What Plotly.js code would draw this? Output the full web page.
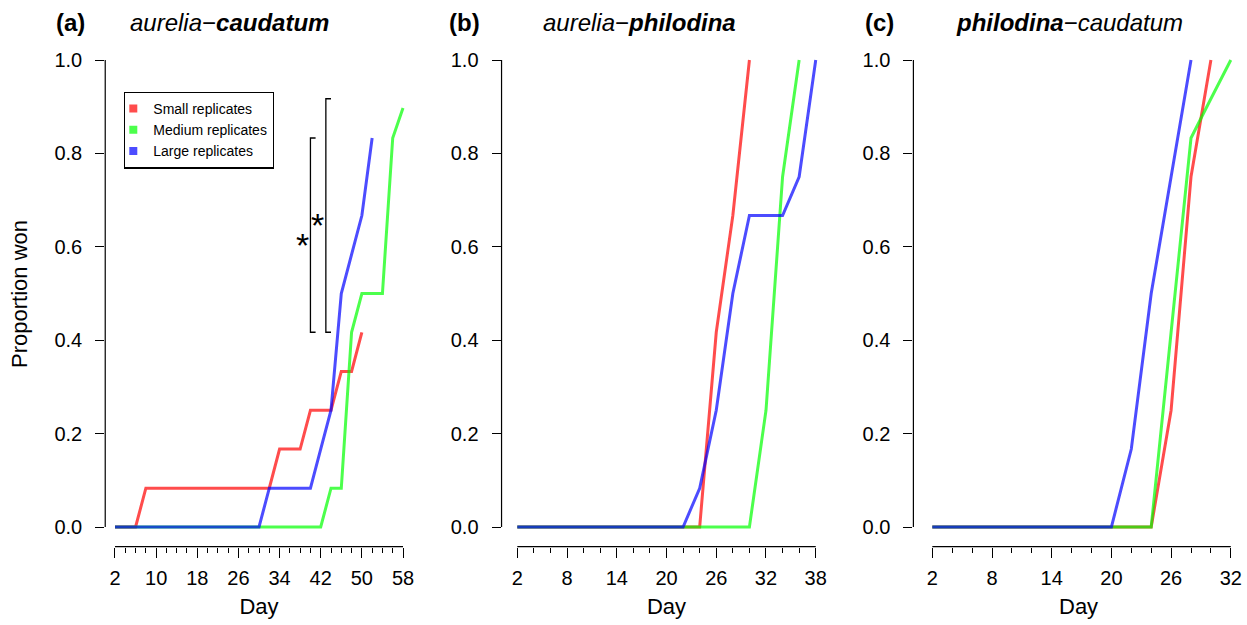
<!DOCTYPE html>
<html>
<head>
<meta charset="utf-8">
<script src="https://cdn.plot.ly/plotly-3.0.1.min.js"></script>
<style>html,body{margin:0;padding:0;background:#fff;}#chart{width:1247px;height:625px;}</style>
</head>
<body>
<div id="chart"></div>
<script>
// ---------- data ----------
const seriesNames = ["Small replicates", "Medium replicates", "Large replicates"];

// Panel (a) aurelia–caudatum
const daysA_small  = [2,4,6,8,10,12,14,16,18,20,22,24,26,28,30,32,34,36,38,40,42,44,46,48,50];
const wonA_small   = [0,0,0,0.083,0.083,0.083,0.083,0.083,0.083,0.083,0.083,0.083,0.083,0.083,0.083,0.083,0.167,0.167,0.167,0.25,0.25,0.25,0.333,0.333,0.417];
const daysA_medium = [2,4,6,8,10,12,14,16,18,20,22,24,26,28,30,32,34,36,38,40,42,44,46,48,50,52,54,56,58];
const wonA_medium  = [0,0,0,0,0,0,0,0,0,0,0,0,0,0,0,0,0,0,0,0,0,0.083,0.083,0.417,0.5,0.5,0.5,0.833,0.897];
const daysA_large  = [2,4,6,8,10,12,14,16,18,20,22,24,26,28,30,32,34,36,38,40,42,44,46,48,50,52];
const wonA_large   = [0,0,0,0,0,0,0,0,0,0,0,0,0,0,0,0.083,0.083,0.083,0.083,0.083,0.167,0.25,0.5,0.583,0.667,0.833];

// Panel (b) aurelia–philodina
const daysB_small  = [2,4,6,8,10,12,14,16,18,20,22,24,26,28,30];
const wonB_small   = [0,0,0,0,0,0,0,0,0,0,0,0,0.417,0.667,1.0];
const daysB_medium = [2,4,6,8,10,12,14,16,18,20,22,24,26,28,30,32,34,36];
const wonB_medium  = [0,0,0,0,0,0,0,0,0,0,0,0,0,0,0,0.25,0.75,1.0];
const daysB_large  = [2,4,6,8,10,12,14,16,18,20,22,24,26,28,30,32,34,36,38];
const wonB_large   = [0,0,0,0,0,0,0,0,0,0,0,0.083,0.25,0.5,0.667,0.667,0.667,0.75,1.0];

// Panel (c) philodina–caudatum
const daysC_small  = [2,4,6,8,10,12,14,16,18,20,22,24,26,28,30];
const wonC_small   = [0,0,0,0,0,0,0,0,0,0,0,0,0.25,0.75,1.0];
const daysC_medium = [2,4,6,8,10,12,14,16,18,20,22,24,26,28,30,32];
const wonC_medium  = [0,0,0,0,0,0,0,0,0,0,0,0,0.417,0.833,0.917,1.0];
const daysC_large  = [2,4,6,8,10,12,14,16,18,20,22,24,26,28];
const wonC_large   = [0,0,0,0,0,0,0,0,0,0,0.167,0.5,0.75,1.0];

// tick labels
const xTicksA = [2,10,18,26,34,42,50,58];
const xTicksB = [2,8,14,20,26,32,38];
const xTicksC = [2,8,14,20,26,32];
const yTicks  = [0,0.2,0.4,0.6,0.8,1.0];
const yTickText = ["0.0","0.2","0.4","0.6","0.8","1.0"];

// significance comparisons in panel (a): [low end, high end]
const sigLow  = [0.417, 0.417];
const sigHigh = [0.833, 0.917];

// ---------- styling ----------
const W = 1247, H = 625;
const FONT = "Liberation Sans, Arial, Helvetica, sans-serif";
const colors = ["rgba(255,0,0,0.7)", "rgba(0,255,0,0.7)", "rgba(0,0,255,0.7)"];
const px = v => v / W;
const py = v => 1 - v / H;

// y: 0 -> 527px, 1 -> 60px
const yRange = [-0.042, 1.04];
const yDom = [py(527 + 0.042 * 467), py(60 - 0.04 * 467)];

function xDomain(day2px, pxPerDay, r0, r1) {
  return [px(day2px + (r0 - 2) * pxPerDay), px(day2px + (r1 - 2) * pxPerDay)];
}
const rA = [0.1, 59.9], rB = [0.1, 39.9], rC = [0.1, 33.3];
const domA = xDomain(115.0, 5.143, rA[0], rA[1]);
const domB = xDomain(517.3, 8.29, rB[0], rB[1]);
const domC = xDomain(932.3, 9.95, rC[0], rC[1]);

function line(x, y, i, xa, ya) {
  return {x: x, y: y, type: "scatter", mode: "lines", xaxis: xa, yaxis: ya,
          line: {color: colors[i], width: 3}, showlegend: false, hoverinfo: "x+y", name: seriesNames[i]};
}

const traces = [
  line(daysA_small, wonA_small, 0, "x", "y"),
  line(daysA_medium, wonA_medium, 1, "x", "y"),
  line(daysA_large, wonA_large, 2, "x", "y"),
  line(daysB_small, wonB_small, 0, "x2", "y2"),
  line(daysB_medium, wonB_medium, 1, "x2", "y2"),
  line(daysB_large, wonB_large, 2, "x2", "y2"),
  line(daysC_small, wonC_small, 0, "x3", "y3"),
  line(daysC_medium, wonC_medium, 1, "x3", "y3"),
  line(daysC_large, wonC_large, 2, "x3", "y3")
];
// legend entries (filled squares)
seriesNames.forEach((n, i) => {
  traces.push({x: [null], y: [null], type: "scatter", mode: "markers", xaxis: "x", yaxis: "y",
    name: n, marker: {symbol: "square", size: 8, color: colors[i]}, showlegend: true});
});

function xAxis(dom, rng, ticks, anchor) {
  return {
    domain: dom, range: rng, anchor: anchor,
    tickmode: "array", tickvals: ticks, ticktext: ticks.map(String),
    ticks: "outside", ticklen: 10, tickwidth: 1, tickcolor: "#000",
    minor: {tickmode: "linear", tick0: 2, dtick: 2, ticks: "outside", ticklen: 5, tickwidth: 1, tickcolor: "#000", showgrid: false},
    ticklabelstandoff: 3,
    showline: false, showgrid: false, zeroline: false,
    tickfont: {family: FONT, size: 20, color: "#000"},
    title: {text: "Day", font: {family: FONT, size: 22, color: "#000"}, standoff: 10}
  };
}
function yAxis(anchor, withTitle) {
  const ax = {
    domain: yDom, range: yRange, anchor: anchor,
    tickmode: "array", tickvals: yTicks, ticktext: yTickText,
    ticks: "outside", ticklen: 9, tickwidth: 1, tickcolor: "#000",
    ticklabelstandoff: 9,
    showline: false, showgrid: false, zeroline: false,
    tickfont: {family: FONT, size: 20, color: "#000"}
  };
  if (withTitle) ax.title = {text: "Proportion won", font: {family: FONT, size: 22, color: "#000"}, standoff: 20};
  return ax;
}

// R-style axis lines that span only first..last tick
function axisLines(xr, yr, xTicks) {
  return [
    {type: "line", xref: xr, yref: yr + " domain", x0: xTicks[0], x1: xTicks[xTicks.length - 1], y0: 0, y1: 0, line: {color: "#000", width: 1.2}},
    {type: "line", xref: xr + " domain", yref: yr, x0: 0, x1: 0, y0: yTicks[0], y1: yTicks[yTicks.length - 1], line: {color: "#000", width: 1.2}}
  ];
}
// significance brackets in panel (a)
const bracketX = [40, 43];
const bracketArm = 1;
const brackets = bracketX.map((bx, i) => ({
  type: "path", xref: "x", yref: "y",
  path: `M ${bx + bracketArm},${sigLow[i]} L ${bx},${sigLow[i]} L ${bx},${sigHigh[i]} L ${bx + bracketArm},${sigHigh[i]}`,
  line: {color: "#000", width: 1.3}
}));

const titleFont = {family: FONT, size: 24, color: "#000"};
const annotations = [
  {text: "<b>(a)</b>", x: px(54), y: py(23), xref: "paper", yref: "paper", xanchor: "left", yanchor: "middle", showarrow: false, font: titleFont},
  {text: "<i>aurelia</i>\u2212<b><i>caudatum</i></b>", x: px(128), y: py(23), xref: "paper", yref: "paper", xanchor: "left", yanchor: "middle", showarrow: false, font: titleFont},
  {text: "<b>(b)</b>", x: px(447), y: py(23), xref: "paper", yref: "paper", xanchor: "left", yanchor: "middle", showarrow: false, font: titleFont},
  {text: "<i>aurelia</i>\u2212<b><i>philodina</i></b>", x: px(541), y: py(23), xref: "paper", yref: "paper", xanchor: "left", yanchor: "middle", showarrow: false, font: titleFont},
  {text: "<b>(c)</b>", x: px(863), y: py(23), xref: "paper", yref: "paper", xanchor: "left", yanchor: "middle", showarrow: false, font: titleFont},
  {text: "<b><i>philodina</i></b>\u2212<i>caudatum</i>", x: px(954), y: py(23), xref: "paper", yref: "paper", xanchor: "left", yanchor: "middle", showarrow: false, font: titleFont},
  {text: "*", x: bracketX[0] - 1.5, y: (sigLow[0] + sigHigh[0]) / 2, xref: "x", yref: "y", showarrow: false, yshift: -10, font: {family: FONT, size: 34, color: "#000"}},
  {text: "*", x: bracketX[1] - 1.6, y: (sigLow[1] + sigHigh[1]) / 2, xref: "x", yref: "y", showarrow: false, yshift: -9, font: {family: FONT, size: 34, color: "#000"}}
];

const layout = {
  width: W, height: H,
  margin: {l: 0, r: 0, t: 0, b: 0},
  paper_bgcolor: "#fff", plot_bgcolor: "#fff",
  font: {family: FONT, color: "#000"},
  xaxis: xAxis(domA, rA, xTicksA, "y"),
  xaxis2: xAxis(domB, rB, xTicksB, "y2"),
  xaxis3: xAxis(domC, rC, xTicksC, "y3"),
  yaxis: yAxis("x", true),
  yaxis2: yAxis("x2", false),
  yaxis3: yAxis("x3", false),
  showlegend: true,
  legend: {x: px(124), y: py(91.7), xanchor: "left", yanchor: "top",
           bordercolor: "#000", borderwidth: 1.3, bgcolor: "#fff",
           font: {family: FONT, size: 14, color: "#000"}, indentation: -12, tracegroupgap: 0},
  shapes: [].concat(axisLines("x", "y", xTicksA), axisLines("x2", "y2", xTicksB), axisLines("x3", "y3", xTicksC), brackets),
  annotations: annotations
};

Plotly.newPlot("chart", traces, layout, {displayModeBar: false, responsive: false});
</script>
</body>
</html>
